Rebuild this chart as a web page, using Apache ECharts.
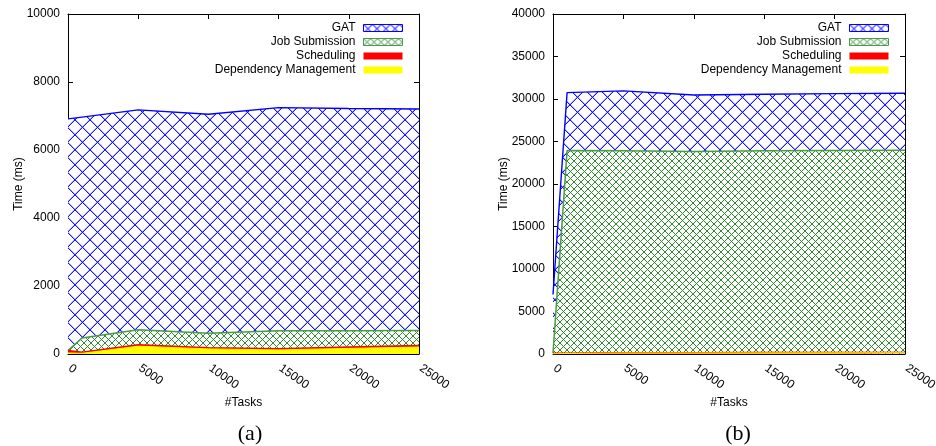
<!DOCTYPE html>
<html><head><meta charset="utf-8">
<script src="https://cdn.jsdelivr.net/npm/echarts/dist/echarts.min.js"></script>
<style>html,body{margin:0;padding:0;background:#fff}#c{width:936px;height:446px}</style>
</head><body><div id="c"></div>
<script>
// ---------- data ----------
const tasks = [0, 1000, 5000, 10000, 15000, 20000, 25000];
const seriesNames = ['GAT', 'Job Submission', 'Scheduling', 'Dependency Management'];
// chart (a)
const depA   = [30, 20, 230, 150, 120, 165, 205];
const schedA = [70, 30, 40, 35, 35, 40, 45];
const jobA   = [0, 420, 444, 425, 530, 480, 444];
const gatA   = [6814, 6497, 6465, 6443, 6562, 6535, 6514];
// chart (b)
const depB   = [20, 60, 120, 120, 130, 140, 150];
const schedB = [60, 30, 40, 40, 40, 40, 40];
const jobB   = [0, 23840, 23740, 23670, 23730, 23770, 23790];
const gatB   = [6920, 6820, 7050, 6640, 6660, 6680, 6700];
const yMaxA = 10000, yStepA = 2000;
const yMaxB = 40000, yStepB = 5000;
const xMax = 25000, xStep = 5000;
const captions = ['(a)', '(b)'];
const xName = '#Tasks', yName = 'Time (ms)';

// ---------- styles ----------
function hatch(n, rgb, soft) {
  const c = document.createElement('canvas'); c.width = n; c.height = n;
  const g = c.getContext('2d');
  g.fillStyle = '#fff'; g.fillRect(0, 0, n, n);
  if (soft) {
    g.fillStyle = 'rgba(' + rgb + ',' + soft + ')';
    for (let i = 0; i < n; i++) {
      g.fillRect((i + 1) % n, i, 1, 1);
      g.fillRect((2 * n - 2 - i) % n, i, 1, 1);
    }
  }
  g.fillStyle = 'rgb(' + rgb + ')';
  for (let i = 0; i < n; i++) { g.fillRect(i, i, 1, 1); g.fillRect(n - 1 - i, i, 1, 1); }
  return c;
}
const blueHatch = { image: hatch(15, '20,20,255', 0.35), repeat: 'repeat' };
const blueHatchSmall = { image: hatch(9, '20,20,255', 0.3), repeat: 'repeat' };
const greenHatch = { image: hatch(7, '47,138,47', 0), repeat: 'repeat' };
const FONT = 'Liberation Sans';
const styles = {
  'GAT': { line: '#0000ff', fill: blueHatch, w: 1.4 },
  'Job Submission': { line: '#4a9a4a', fill: greenHatch, w: 1.5 },
  'Scheduling': { line: '#ff0000', fill: '#ff0000', w: 1.5 },
  'Dependency Management': { line: '#ffff00', fill: '#ffff00', w: 1 }
};
const plain = v => String(v);

const grids = [
  { left: 68, right: 517, top: 14, bottom: 92, containLabel: false, outerBoundsMode: 'none' },
  { left: 553, right: 31, top: 14, bottom: 92, containLabel: false, outerBoundsMode: 'none' }
];
const axLine = { show: true, onZero: false, lineStyle: { color: '#000', width: 1 } };
const axTick = { show: true, inside: true, length: 5, lineStyle: { color: '#000', width: 1 } };

function xAxes(gi) {
  return [
    { type: 'value', gridIndex: gi, position: 'bottom', min: 0, max: xMax, interval: xStep,
      axisLine: axLine, axisTick: axTick, splitLine: { show: false },
      axisLabel: { rotate: -35, margin: 12, color: '#000', fontSize: 12, fontFamily: FONT, formatter: plain,
                   showMinLabel: true, showMaxLabel: true, hideOverlap: false, padding: [0, 0, 0, 2] },
      name: xName, nameLocation: 'middle', nameGap: 43, nameMoveOverlap: false,
      nameTextStyle: { color: '#000', fontSize: 12, fontFamily: FONT } },
    { type: 'value', gridIndex: gi, position: 'top', min: 0, max: xMax, interval: xStep,
      axisLine: axLine, axisTick: axTick, splitLine: { show: false }, axisLabel: { show: false } }
  ];
}
function yAxes(gi, max, step) {
  return [
    { type: 'value', gridIndex: gi, position: 'left', min: 0, max: max, interval: step,
      axisLine: axLine, axisTick: axTick, splitLine: { show: false },
      axisLabel: { margin: 8, color: '#000', fontSize: 12, fontFamily: FONT, formatter: plain,
                   showMinLabel: true, showMaxLabel: true },
      name: yName, nameLocation: 'middle', nameGap: 43, nameMoveOverlap: false,
      nameTextStyle: { color: '#000', fontSize: 12, fontFamily: FONT } },
    { type: 'value', gridIndex: gi, position: 'right', min: 0, max: max, interval: step,
      axisLine: axLine, axisTick: axTick, splitLine: { show: false }, axisLabel: { show: false } }
  ];
}

// Stacked areas: cumulative sums computed from the data arrays; drawn top layer first,
// each area filled down to the axis so the next (lower) layer covers it.
function makeSeries(gi, arrays) {
  const bottomUp = ['Dependency Management', 'Scheduling', 'Job Submission', 'GAT'];
  const cum = {};
  let run = tasks.map(() => 0);
  bottomUp.forEach(name => { run = run.map((v, i) => v + arrays[name][i]); cum[name] = run.slice(); });
  return bottomUp.slice().reverse().map(name => ({
    type: 'line', name: name, xAxisIndex: gi * 2, yAxisIndex: gi * 2,
    showSymbol: false, symbol: 'none', smooth: false,
    lineStyle: { color: styles[name].line, width: styles[name].w },
    itemStyle: { color: styles[name].line },
    areaStyle: { color: styles[name].fill, opacity: 1, origin: 'start' },
    data: tasks.map((t, i) => [t, cum[name][i]])
  }));
}

function legendFor(right) {
  return {
    orient: 'vertical', right: right, top: 22, padding: 0, align: 'right', itemWidth: 39, itemHeight: 7, itemGap: 2,
    selectedMode: false,
    textStyle: { color: '#000', fontSize: 12, fontFamily: FONT, padding: [0, 3, 0, 0] },
    data: [
      { name: 'GAT', icon: 'rect', itemStyle: { color: blueHatchSmall, borderColor: '#0000ff', borderWidth: 1 } },
      { name: 'Job Submission', icon: 'rect', itemStyle: { color: greenHatch, borderColor: '#4a9a4a', borderWidth: 1 } },
      { name: 'Scheduling', icon: 'rect', itemStyle: { color: '#ff0000', borderWidth: 0 } },
      { name: 'Dependency Management', icon: 'rect', itemStyle: { color: '#ffff00', borderWidth: 0 } }
    ]
  };
}

const capStyle = { fontFamily: 'Liberation Serif', fontSize: 22, fontWeight: 'normal', color: '#000' };
const chart = echarts.init(document.getElementById('c'), null, { renderer: 'canvas' });
chart.setOption({
  animation: false,
  backgroundColor: '#fff',
  grid: grids,
  xAxis: [...xAxes(0), ...xAxes(1)],
  yAxis: [...yAxes(0, yMaxA, yStepA), ...yAxes(1, yMaxB, yStepB)],
  legend: [legendFor(533), legendFor(47)],
  title: [
    { text: captions[0], left: 245, top: 418, textAlign: 'center', textStyle: capStyle },
    { text: captions[1], left: 733, top: 418, textAlign: 'center', textStyle: capStyle }
  ],
  series: [
    ...makeSeries(0, { 'Dependency Management': depA, 'Scheduling': schedA, 'Job Submission': jobA, 'GAT': gatA }),
    ...makeSeries(1, { 'Dependency Management': depB, 'Scheduling': schedB, 'Job Submission': jobB, 'GAT': gatB })
  ]
});
</script>
</body></html>
